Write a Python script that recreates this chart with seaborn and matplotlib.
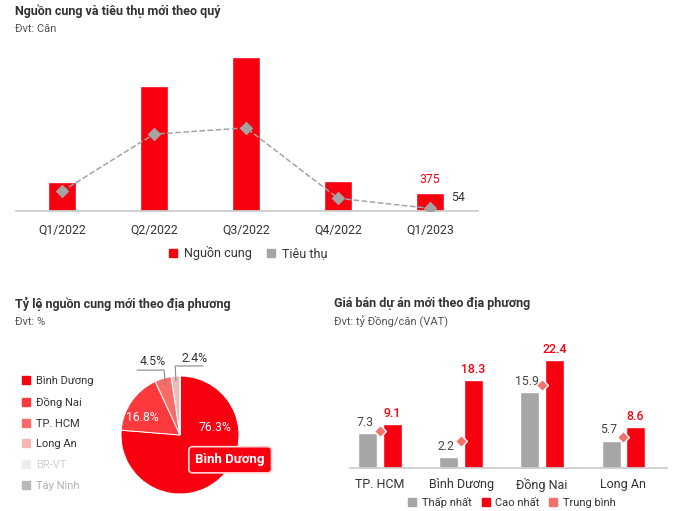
import matplotlib
matplotlib.use("Agg")
import matplotlib.pyplot as plt
from matplotlib.lines import Line2D
import seaborn as sns
import pandas as pd

sns.set_theme(style="white")
plt.rcParams['font.family'] = ['Roboto', 'DejaVu Sans']

# Du lieu
quarters = ["Q1/2022", "Q2/2022", "Q3/2022", "Q4/2022", "Q1/2023"]
supply = [605, 2610, 3200, 625, 375]
sales = [410, 1600, 1730, 264, 54]

regions_pie = ["Bình Dương", "Đồng Nai", "TP. HCM", "Long An", "BR-VT", "Tây Ninh"]
share_pie = [76.3, 16.8, 4.5, 2.4, 0.0, 0.0]

regions_price = ["TP. HCM", "Bình Dương", "Đồng Nai", "Long An"]
price_min = [7.3, 2.2, 15.9, 5.7]
price_max = [9.1, 18.3, 22.4, 8.6]
price_avg = [7.7, 5.7, 17.3, 6.5]

RED = "#f8000f"
GRAY = "#a6a6a6"
DARK = "#333333"
pie_colors = ["#f8000f", "#fc3a3e", "#f96b66", "#f3b7b7", "#eeeeee", "#b8b8b8"]
pie_text = [DARK, DARK, DARK, DARK, "#cfcfcf", "#b0b0b0"]

W, H = 700, 511
fig = plt.figure(figsize=(7, 5.11), dpi=100)


def px_axes(x0, y_top, w, h):
    return fig.add_axes([x0 / W, 1 - (y_top + h) / H, w / W, h / H])


def ftext(x, y, s, **kw):
    fig.text(x / W, 1 - y / H, s, **kw)


def sq(c):
    return Line2D([], [], marker="s", ls="", color=c, markersize=6)


# ---------- Bieu do 1: nguon cung va tieu thu ----------
ftext(15, 11, "Nguồn cung và tiêu thụ mới theo quý", fontsize=9, fontweight="bold", color=DARK, va="center")
ftext(15, 29, "Đvt: Căn", fontsize=8, color="#555555", va="center")

ax1 = px_axes(16, 50, 462, 161)
sns.barplot(x=quarters, y=supply, color=RED, width=0.3, saturation=1, ax=ax1, zorder=2)
sns.pointplot(x=quarters, y=sales, color="#a3a3a3", marker="D", linestyle="--",
              markersize=6, linewidth=1.1, markeredgecolor="#a3a3a3", ax=ax1, zorder=3)
ax1.set_xlim(-0.5, 4.52)
ax1.set_ylim(0, 3350)
ax1.set_yticks([])
ax1.set_ylabel("")
for s in ["top", "right", "left"]:
    ax1.spines[s].set_visible(False)
ax1.spines["bottom"].set_color("#cccccc")
ax1.tick_params(axis="x", length=0, pad=9, labelsize=8.8, labelcolor=DARK)
ax1.annotate(f"{supply[-1]}", (4, supply[-1]), xytext=(0, 5), textcoords="offset points",
             ha="center", va="bottom", color=RED, fontsize=8.8)
ax1.annotate(f"{sales[-1]}", (4, sales[-1]), xytext=(20, 8), textcoords="offset points",
             ha="center", va="center", color=DARK, fontsize=8.8)

fig.legend([sq(RED), sq(GRAY)], ["Nguồn cung", "Tiêu thụ"], loc="center",
           bbox_to_anchor=(248 / W, 1 - 253 / H), ncol=2, frameon=False, fontsize=9,
           handlelength=0.7, handletextpad=0.5, columnspacing=1.2, labelcolor=DARK)

# ---------- Bieu do 2: ty le nguon cung ----------
ftext(15, 304, "Tỷ lệ nguồn cung mới theo địa phương", fontsize=9, fontweight="bold", color=DARK, va="center")
ftext(15, 322, "Đvt: %", fontsize=8, color="#555555", va="center")

R = 59
ax2 = px_axes(180 - R, 435 - R, 2 * R, 2 * R)
ax2.pie(share_pie, colors=pie_colors, startangle=90, counterclock=False, radius=1,
        wedgeprops=dict(edgecolor="white", linewidth=0.7))
ax2.set_xlim(-1, 1)
ax2.set_ylim(-1, 1)
ax2.set_aspect("equal")
ax2.axis("off")
ax2.text(0.59, 0.12, f"{share_pie[0]}%", color="white", ha="center", va="center", fontsize=8.8)
ax2.text(-0.64, 0.29, f"{share_pie[1]}%", color="white", ha="center", va="center", fontsize=8.8)
ax2.text(-0.47, 1.25, f"{share_pie[2]}%", color=DARK, ha="center", va="center", fontsize=8.8, clip_on=False)
ax2.text(0.25, 1.30, f"{share_pie[3]}%", color=DARK, ha="center", va="center", fontsize=8.8, clip_on=False)
ax2.plot([-0.73, -0.27, -0.25], [1.10, 1.10, 0.86], color="#888888", lw=0.8, clip_on=False)
ax2.plot([0.39, -0.08, -0.07], [1.17, 1.17, 0.92], color="#888888", lw=0.8, clip_on=False)
ax2.text(0.85, -0.42, regions_pie[0], color="white", ha="center", va="center", fontsize=9.5,
         fontweight="bold", clip_on=False,
         bbox=dict(boxstyle="round,pad=0.5,rounding_size=0.3", fc=RED, ec="#ffd6d6", lw=1.2))

fig.legend([sq(c) for c in pie_colors], regions_pie, loc="upper left",
           bbox_to_anchor=(12 / W, 1 - 366 / H), frameon=False, fontsize=8,
           handlelength=0.7, handletextpad=0.6, labelspacing=0.97, labelcolor=pie_text)

# ---------- Bieu do 3: gia ban ----------
ftext(334, 304, "Giá bán dự án mới theo địa phương", fontsize=9, fontweight="bold", color=DARK, va="center")
ftext(334, 322, "Đvt: tỷ Đồng/căn (VAT)", fontsize=8, color="#555555", va="center")

df = pd.DataFrame({
    "region": regions_price * 2,
    "price": price_min + price_max,
    "type": ["Thấp nhất"] * 4 + ["Cao nhất"] * 4,
})
ax3 = px_axes(350, 348, 317, 120)
sns.barplot(data=df, x="region", y="price", hue="type", palette=[GRAY, RED],
            width=0.6, gap=0.22, saturation=1, ax=ax3, legend=False, zorder=2)
sns.pointplot(x=regions_price, y=price_avg, color="#f4716b", marker="D", linestyle="none",
              markersize=6.5, markeredgecolor="white", markeredgewidth=1, ax=ax3, zorder=4)
ax3.set_xlim(-0.37, 3.54)
ax3.set_ylim(0, 25)
ax3.set_yticks([])
ax3.set_ylabel("")
ax3.set_xlabel("")
for s in ["top", "right", "left"]:
    ax3.spines[s].set_visible(False)
ax3.spines["bottom"].set_color("#cccccc")
ax3.tick_params(axis="x", length=0, pad=7, labelsize=9, labelcolor=DARK)
for i in range(4):
    ax3.annotate(f"{price_min[i]}", (i - 0.15, price_min[i]), xytext=(-2, 3), textcoords="offset points",
                 ha="center", va="bottom", color="#444444", fontsize=8.8, zorder=5)
    ax3.annotate(f"{price_max[i]}", (i + 0.15, price_max[i]), xytext=(0, 3), textcoords="offset points",
                 ha="center", va="bottom", color=RED, fontsize=8.8, fontweight="medium", zorder=5)

fig.legend([sq(GRAY), sq(RED), sq("#f4716b")], ["Thấp nhất", "Cao nhất", "Trung bình"], loc="center",
           bbox_to_anchor=(512 / W, 1 - 502 / H), ncol=3, frameon=False, fontsize=8,
           handlelength=0.7, handletextpad=0.5, columnspacing=0.9, labelcolor=DARK)

fig.savefig("out.png", dpi=100)
